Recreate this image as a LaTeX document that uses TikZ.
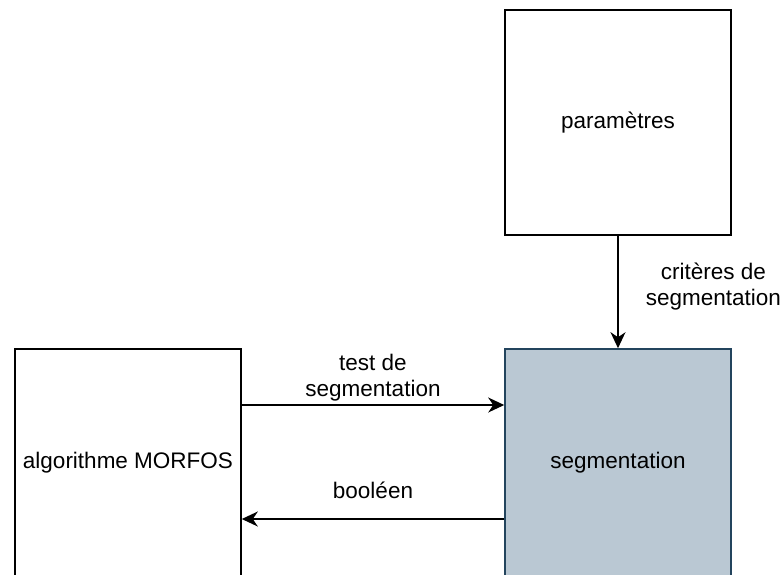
\documentclass[tikz,border=0pt]{standalone}
\usepackage{fontspec}
\setmainfont{Liberation Sans}
\usepackage{tikz}
\usetikzlibrary{arrows.meta}

\definecolor{segfill}{HTML}{BAC8D3}
\definecolor{segline}{HTML}{23445D}

\begin{document}
\begin{tikzpicture}[x=1pt, y=-1pt,
    box/.style={shape=rectangle, draw=black, line width=1.6pt, minimum width=226pt, minimum height=228pt, inner sep=0pt, font=\fontsize{22.5}{26}\selectfont},
    lbl/.style={inner sep=0pt, align=center, font=\fontsize{22.5}{26}\selectfont},
    arr/.style={line width=1.6pt, -{Stealth[length=16pt, width=15pt, inset=5pt]}}]
	\useasboundingbox (0,0) rectangle (781,574);

	\node[box, minimum height=225pt] (param) at (618, 122.5)  {paramètres};

	\node[box] (algo) at (128, 463)   {algorithme MORFOS};
	\node[box, fill=segfill, draw=segline] (seg) at (618, 463)   {segmentation};


    \path[arr] (param) edge node[lbl, pos=0.45, right=27pt] {critères de\\segmentation} (seg);

    \path[arr] ([yshift=58pt]algo.east) edge node[lbl, above=3pt] {test de\\segmentation} ([yshift=58pt]seg.west);
    \path[arr] ([yshift=-56pt]seg.west) edge node[lbl, above=19pt] {booléen} ([yshift=-56pt]algo.east);

	\end{tikzpicture}
\end{document}
